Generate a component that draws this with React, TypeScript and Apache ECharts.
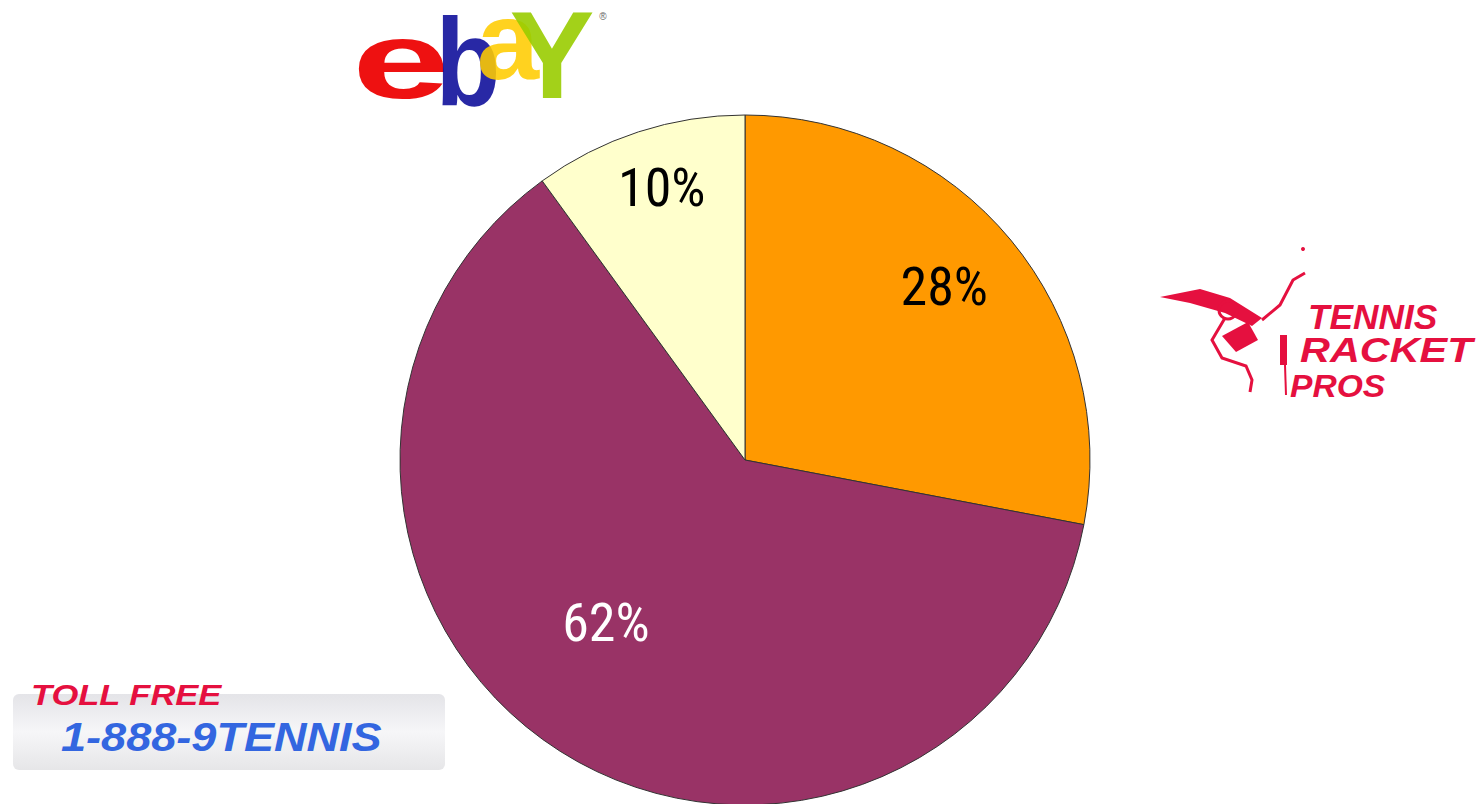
import React, { useEffect, useRef } from "react";
import * as echarts from "echarts";

const sliceNames = ["Tennis Racket Pros", "Other", "eBay"];
const sliceValues = [28, 62, 10];
const sliceColors = ["#FF9900", "#993366", "#FFFFCC"];
const labelColors = ["#000000", "#FFFFFF", "#000000"];
const labelOffsets: [number, number][] = [
  [64, -62],
  [-45, 14],
  [-29, -106],
];

const RED = "#E5103F";
const NARROW =
  '"Liberation Sans Narrow", "Arial Narrow", "Roboto Condensed", "DejaVu Sans Condensed", sans-serif';

export default function App() {
  const ref = useRef<HTMLDivElement>(null);
  useEffect(() => {
    if (!ref.current) return;
    const chart = echarts.init(ref.current, null, { renderer: "svg" });
    const data = sliceValues.map((v, i) => ({
      value: v,
      name: sliceNames[i],
      itemStyle: { color: sliceColors[i] },
      label: { color: labelColors[i], offset: labelOffsets[i] },
    }));
    const letter = (
      t: string,
      x: number,
      y: number,
      size: number,
      color: string,
      sx: number,
      opacity = 1
    ) => ({
      type: "text",
      x,
      y,
      scaleX: sx,
      z: 10,
      style: {
        text: t,
        fill: color,
        opacity,
        font: `bold ${size}px "Liberation Sans", Arial, sans-serif`,
        lineHeight: Math.round(size * 0.6),
        textAlign: "center",
        textVerticalAlign: "middle",
      },
    });
    const word = (
      t: string,
      x: number,
      y: number,
      size: number,
      color: string,
      sx: number
    ) => ({
      type: "text",
      x,
      y,
      scaleX: sx,
      z: 10,
      style: {
        text: t,
        fill: color,
        font: `italic bold ${size}px "Liberation Sans", Arial, sans-serif`,
        textAlign: "left",
        textVerticalAlign: "middle",
      },
    });
    chart.setOption({
      animation: false,
      backgroundColor: "#FFFFFF",
      series: [
        {
          type: "pie",
          center: [745, 460],
          radius: 345,
          startAngle: 90,
          clockwise: true,
          silent: true,
          data,
          itemStyle: { borderColor: "#333333", borderWidth: 1 },
          label: {
            show: true,
            position: "inside",
            formatter: (p: any) => `${p.value}%`,
            fontSize: 54,
            fontFamily: NARROW,
          },
          labelLine: { show: false },
          emphasis: { disabled: true },
        },
      ],
      graphic: [
        // eBay logo
        letter("e", 401, 60, 110, "#EE1111", 1.6),
        letter("b", 468, 62, 125, "#0A0A99", 0.85, 0.88),
        letter("a", 508, 40, 112, "#FFCC00", 1.0, 0.88),
        letter("Y", 552, 55, 125, "#99CC00", 1.02, 0.9),
        {
          type: "text",
          x: 603,
          y: 16,
          style: {
            text: "®",
            fill: "#666666",
            font: '10px "Liberation Sans", Arial, sans-serif',
            textAlign: "center",
            textVerticalAlign: "middle",
          },
        },
        // Tennis Racket Pros logo
        {
          type: "polygon",
          shape: {
            points: [
              [1160, 297],
              [1200, 289],
              [1230, 298],
              [1262, 318],
              [1252, 326],
              [1225, 313],
              [1190, 303],
            ],
          },
          style: { fill: RED },
        },
        {
          type: "circle",
          shape: { cx: 1228, cy: 310, r: 9 },
          style: { fill: "none", stroke: RED, lineWidth: 3 },
        },
        {
          type: "polyline",
          shape: {
            points: [
              [1262, 320],
              [1280, 305],
              [1293, 280],
              [1305, 273],
            ],
          },
          style: { stroke: RED, lineWidth: 3, fill: "none" },
        },
        {
          type: "polyline",
          shape: {
            points: [
              [1225, 318],
              [1212, 340],
              [1222, 358],
              [1246, 366],
              [1252, 380],
              [1250, 392],
            ],
          },
          style: { stroke: RED, lineWidth: 3, fill: "none" },
        },
        {
          type: "polygon",
          shape: {
            points: [
              [1222, 336],
              [1248, 322],
              [1258, 340],
              [1236, 352],
            ],
          },
          style: { fill: RED },
        },
        {
          type: "rect",
          shape: { x: 1280, y: 335, width: 7, height: 30 },
          style: { fill: RED },
        },
        {
          type: "line",
          shape: { x1: 1285, y1: 365, x2: 1286, y2: 395 },
          style: { stroke: RED, lineWidth: 2 },
        },
        {
          type: "circle",
          shape: { cx: 1303, cy: 249, r: 2 },
          style: { fill: RED },
        },
        word("TENNIS", 1308, 317, 36, RED, 0.98),
        word("RACKET", 1300, 349, 36, RED, 1.15),
        word("PROS", 1290, 386, 32, RED, 1.05),
        // Toll free box
        {
          type: "rect",
          shape: { x: 13, y: 694, width: 432, height: 76, r: 6 },
          style: {
            fill: new echarts.graphic.LinearGradient(0, 0, 0, 1, [
              { offset: 0, color: "#E4E4E8" },
              { offset: 0.5, color: "#F6F6F8" },
              { offset: 1, color: "#E6E6E8" },
            ]),
          },
        },
        word("TOLL FREE", 31, 695, 30, RED, 1.15),
        word("1-888-9TENNIS", 61, 737, 41, "#3366E0", 1.1),
      ],
    });
    return () => chart.dispose();
  }, []);
  return (
    <div
      ref={ref}
      style={{ position: "fixed", left: 0, top: 0, width: 1479, height: 804, background: "#fff" }}
    />
  );
}
